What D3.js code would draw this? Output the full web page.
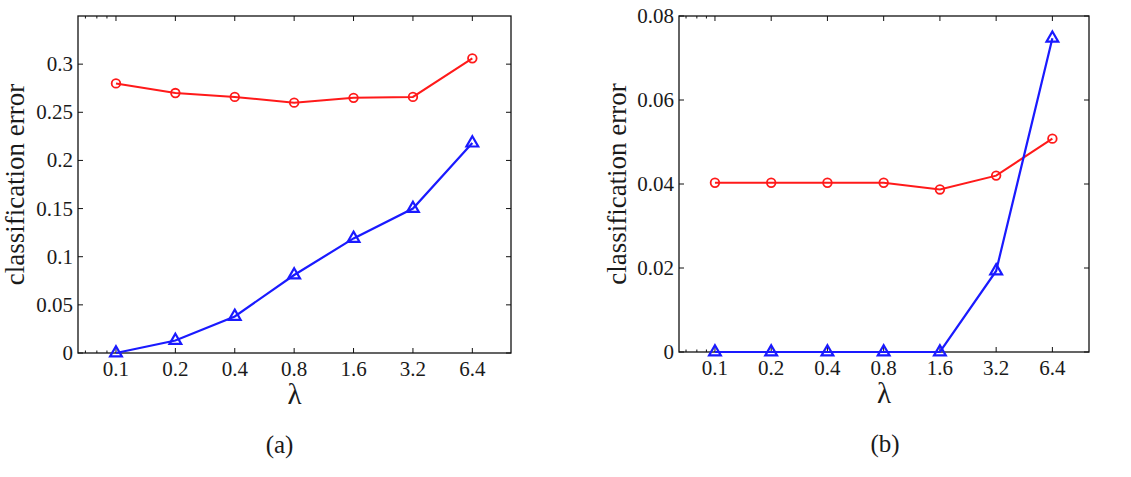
<!DOCTYPE html>
<html>
<head>
<meta charset="utf-8">
<script src="https://cdn.jsdelivr.net/npm/d3@7"></script>
<style>
  body { margin: 0; background: #fff; }
</style>
</head>
<body>
<div id="chart"></div>
<script>
const lambdas = [0.1, 0.2, 0.4, 0.8, 1.6, 3.2, 6.4];
const tickLabels = ["0.1", "0.2", "0.4", "0.8", "1.6", "3.2", "6.4"];

const redA = [0.280, 0.270, 0.266, 0.260, 0.265, 0.266, 0.306];
const blueA = [0.000, 0.013, 0.038, 0.081, 0.119, 0.150, 0.218];
const yTicksA = [0, 0.05, 0.1, 0.15, 0.2, 0.25, 0.3];

const redB = [0.0403, 0.0403, 0.0403, 0.0403, 0.0387, 0.0420, 0.0508];
const blueB = [0, 0, 0, 0, 0, 0.0193, 0.0747];
const yTicksB = [0, 0.02, 0.04, 0.06, 0.08];

const minorX = [0.07, 0.08, 0.09];

const FONT = "'Liberation Serif', 'Times New Roman', 'DejaVu Serif', serif";

const svg = d3.select("#chart").append("svg")
    .attr("width", 1131)
    .attr("height", 477)
    .attr("font-family", FONT);

function drawPanel(opt) {
    const g = svg.append("g").attr("transform", `translate(${opt.left},${opt.top})`);
    const w = opt.width, h = opt.height;

    const x = d3.scaleLog().domain([0.0642, 10.05]).range([0, w]);
    const y = d3.scaleLinear().domain([0, opt.ymax]).range([h, 0]);

    // box
    g.append("rect")
        .attr("width", w).attr("height", h)
        .attr("fill", "none").attr("stroke", "#111").attr("stroke-width", 1.3);

    const tl = 5;
    // x ticks, inward on top and bottom
    lambdas.forEach(v => {
        g.append("line").attr("x1", x(v)).attr("x2", x(v)).attr("y1", h).attr("y2", h - tl)
            .attr("stroke", "#111");
        g.append("line").attr("x1", x(v)).attr("x2", x(v)).attr("y1", 0).attr("y2", tl)
            .attr("stroke", "#111");
    });
    minorX.forEach(v => {
        g.append("line").attr("x1", x(v)).attr("x2", x(v)).attr("y1", h).attr("y2", h - 2.5)
            .attr("stroke", "#111");
        g.append("line").attr("x1", x(v)).attr("x2", x(v)).attr("y1", 0).attr("y2", 2.5)
            .attr("stroke", "#111");
    });
    g.selectAll(".xl").data(lambdas).enter().append("text")
        .attr("x", d => x(d)).attr("y", h + 23)
        .attr("text-anchor", "middle")
        .attr("fill", "#1a1a1a")
        .style("font-size", "21px")
        .text((d, i) => tickLabels[i]);

    // y ticks
    opt.yTicks.forEach(v => {
        g.append("line").attr("x1", 0).attr("x2", tl).attr("y1", y(v)).attr("y2", y(v)).attr("stroke", "#111");
        g.append("line").attr("x1", w).attr("x2", w - tl).attr("y1", y(v)).attr("y2", y(v)).attr("stroke", "#111");
        g.append("text")
            .attr("x", -5).attr("y", y(v) + 7)
            .attr("text-anchor", "end")
            .attr("fill", "#1a1a1a")
            .style("font-size", "21px")
            .text(opt.fmt(v));
    });

    // axis titles
    g.append("text")
        .attr("transform", `translate(${opt.ylabX},${h / 2})rotate(-90)`)
        .attr("text-anchor", "middle")
        .attr("fill", "#1a1a1a")
        .style("font-size", "27px")
        .text("classification error");
    g.append("text")
        .attr("x", w / 2).attr("y", h + 51)
        .attr("text-anchor", "middle")
        .attr("fill", "#1a1a1a")
        .style("font-size", "29px")
        .text("λ");
    g.append("text")
        .attr("x", w / 2 + opt.capDx).attr("y", h + 100)
        .attr("text-anchor", "middle")
        .attr("fill", "#1a1a1a")
        .style("font-size", "25px")
        .text(opt.caption);

    const line = d3.line().x((d, i) => x(lambdas[i])).y(d => y(d));

    g.append("path").datum(opt.red)
        .attr("d", line).attr("fill", "none").attr("stroke", "#ff1a1a").attr("stroke-width", 2);
    g.append("path").datum(opt.blue)
        .attr("d", line).attr("fill", "none").attr("stroke", "#1a1aff").attr("stroke-width", 2.2);

    g.selectAll(".red-pt").data(opt.red).enter().append("circle")
        .attr("cx", (d, i) => x(lambdas[i])).attr("cy", d => y(d))
        .attr("r", 4.3)
        .attr("fill", "none").attr("stroke", "#ff1a1a").attr("stroke-width", 1.8);

    const tri = d3.symbol().type(d3.symbolTriangle).size(60);
    g.selectAll(".blue-pt").data(opt.blue).enter().append("path")
        .attr("d", tri)
        .attr("transform", (d, i) => `translate(${x(lambdas[i])},${y(d)})`)
        .attr("fill", "none").attr("stroke", "#1a1aff").attr("stroke-width", 2.2);
}

drawPanel({
    left: 78, top: 16, width: 433, height: 337,
    ymax: 0.35, yTicks: yTicksA, fmt: d => d === 0 ? "0" : String(d),
    red: redA, blue: blueA, ylabX: -54, caption: "(a)", capDx: -15
});

drawPanel({
    left: 679, top: 16, width: 410, height: 336,
    ymax: 0.08, yTicks: yTicksB, fmt: d => d === 0 ? "0" : d.toFixed(2),
    red: redB, blue: blueB, ylabX: -53, caption: "(b)", capDx: 1
});
</script>
</body>
</html>
